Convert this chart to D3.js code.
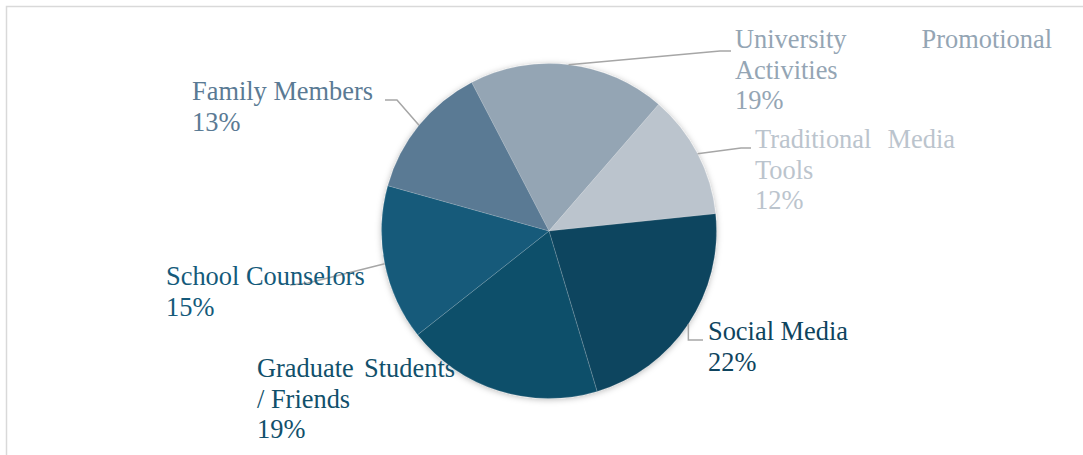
<!DOCTYPE html>
<html>
<head>
<meta charset="utf-8">
<script src="https://cdn.jsdelivr.net/npm/d3@7"></script>
<style>
  html, body { margin: 0; padding: 0; background: #ffffff; }
  svg { display: block; }
  .lbl text { font-family: "Liberation Serif", "Times New Roman", Times, "DejaVu Serif", serif; font-size: 26.4px; }
</style>
</head>
<body>
<svg id="chart" width="1083" height="455"></svg>
<script>
// Information sources, share of respondents (%)
const categories = [
  "University Promotional Activities",
  "Traditional Media Tools",
  "Social Media",
  "Graduate Students / Friends",
  "School Counselors",
  "Family Members"
];
const values = [19, 12, 22, 19, 15, 13];
const colors = ["#94a5b4", "#bbc4cd", "#0e445e", "#11506b", "#145a7a", "#5a7a94"];

// Wrapped label lines (name lines, then the percentage line is appended)
const labelLines = [
  ["University Promotional", "Activities"],
  ["Traditional Media", "Tools"],
  ["Social Media"],
  ["Graduate Students", "/ Friends"],
  ["School Counselors"],
  ["Family Members"]
];

// Label boxes: left x, first baseline, justified width, leader elbow & end
const labelLayout = [
  { x: 735, y: 48,  w: 317, lead: [[720, 51], [731, 51]] },
  { x: 755, y: 148, w: 200, lead: [[741, 148], [751, 148]] },
  { x: 708, y: 340, w: null, lead: "elbowDown", endX: 703 },
  { x: 257, y: 377, w: 198, lead: null },
  { x: 166, y: 285, w: null, lead: [[308, 283], [290, 285]] },
  { x: 192, y: 100, w: null, lead: [[397, 100], [385, 100]] }
];

const cx = 549, cy = 231, radius = 167.5;
const startDeg = -27.5;
const lineH = 30.5;

const svg = d3.select("#chart");

// Chart frame (top and left edges)
svg.append("path")
  .attr("d", "M6.5,455 L6.5,6.5 L1083,6.5")
  .attr("fill", "none")
  .attr("stroke", "#d9d9d9")
  .attr("stroke-width", 1.5);

const defs = svg.append("defs");
const shadow = defs.append("filter")
  .attr("id", "pieShadow")
  .attr("x", "-20%").attr("y", "-20%")
  .attr("width", "140%").attr("height", "140%");
shadow.append("feDropShadow")
  .attr("dx", 0).attr("dy", 1)
  .attr("stdDeviation", 3)
  .attr("flood-color", "#000000")
  .attr("flood-opacity", 0.28);

const data = categories.map((c, i) => ({ name: c, value: values[i], color: colors[i], i }));

const pie = d3.pie()
  .value(d => d.value)
  .sort(null)
  .startAngle(startDeg * Math.PI / 180)
  .endAngle((startDeg + 360) * Math.PI / 180);

const arcs = pie(data);
const arc = d3.arc().innerRadius(0).outerRadius(radius);
const edgeArc = d3.arc().innerRadius(radius).outerRadius(radius);

const g = svg.append("g").attr("transform", `translate(${cx},${cy})`);

g.append("g")
  .attr("filter", "url(#pieShadow)")
  .selectAll("path")
  .data(arcs)
  .join("path")
  .attr("d", arc)
  .attr("fill", d => d.data.color)
  .attr("stroke", "#ffffff")
  .attr("stroke-opacity", 0.25)
  .attr("stroke-width", 0.6);

// Leader lines from each slice's outer edge to its label
const leaders = svg.append("g")
  .attr("fill", "none")
  .attr("stroke", "#a6a6a6")
  .attr("stroke-width", 1.5);

arcs.forEach((a, i) => {
  const L = labelLayout[i];
  if (!L.lead) return;
  const [ex, ey] = edgeArc.centroid(a);
  const sx = cx + ex, sy = cy + ey;
  let pts;
  if (L.lead === "elbowDown") {
    pts = [[sx, sy], [sx, L.y], [L.endX, L.y]];
  } else {
    pts = [[sx, sy], ...L.lead];
  }
  leaders.append("path").attr("d", d3.line()(pts));
});

// Labels: category name (justified lines where a box width is set) + percentage
const labels = svg.append("g").attr("class", "lbl");

arcs.forEach((a, i) => {
  const L = labelLayout[i];
  const lines = labelLines[i];
  const col = a.data.color;
  const lab = labels.append("g").attr("fill", col);
  lines.forEach((ln, k) => {
    const y = L.y + k * lineH;
    const words = ln.split(" ");
    const justify = L.w && k < lines.length - 1 && words.length > 1;
    if (justify) {
      lab.append("text").attr("x", L.x).attr("y", y).text(words.slice(0, -1).join(" "));
      lab.append("text").attr("x", L.x + L.w).attr("y", y)
        .attr("text-anchor", "end").text(words[words.length - 1]);
    } else {
      lab.append("text").attr("x", L.x).attr("y", y).text(ln);
    }
  });
  lab.append("text")
    .attr("x", L.x)
    .attr("y", L.y + lines.length * lineH)
    .text(d3.format(".0f")(a.data.value) + "%");
});
</script>
</body>
</html>
